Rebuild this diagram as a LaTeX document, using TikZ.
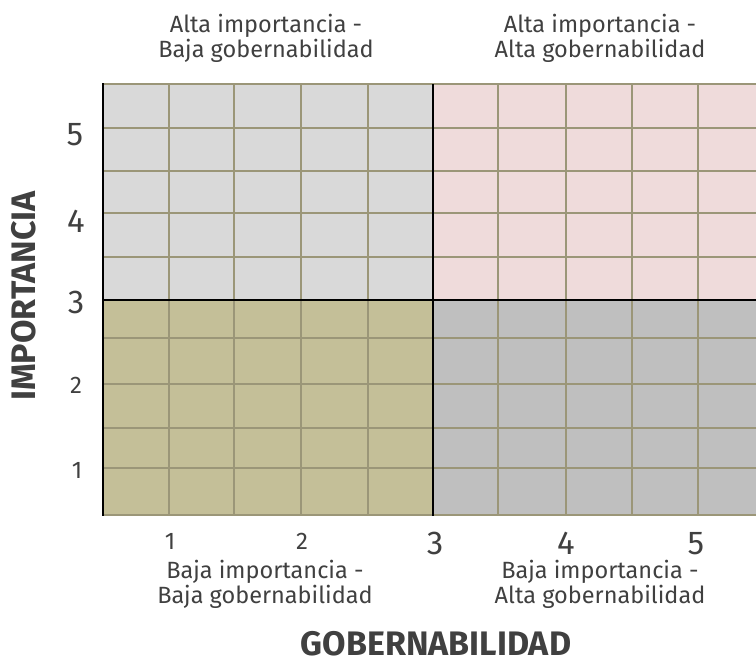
\documentclass[tikz,border=0pt]{standalone}
\usepackage{fontspec}
\setmainfont{Fira Sans}
\definecolor{txt}{RGB}{64,64,64}
\definecolor{gridc}{RGB}{155,150,120}
\definecolor{qtl}{RGB}{217,217,217}
\definecolor{qtr}{RGB}{239,219,219}
\definecolor{qbl}{RGB}{196,191,152}
\definecolor{qbr}{RGB}{191,191,191}
\begin{document}
\begin{tikzpicture}[x=1pt,y=-1pt,
  lbl/.style={font=\fontsize{23.5}{25}\selectfont, text=txt, inner sep=0, anchor=base},
  bignum/.style={font=\fontsize{33}{33}\selectfont, text=txt, inner sep=0, anchor=base, text depth=0pt},
  smallnum/.style={font=\fontsize{24}{24}\selectfont, text=txt, inner sep=0, anchor=base, text depth=0pt},
  axtitle/.style={font=\bfseries\fontsize{34}{34}\selectfont, text=txt, inner sep=0, anchor=base, text depth=0pt},
  gridline/.style={draw=gridc, line width=2.8pt},
  axisline/.style={draw=black, line width=2.8pt}]
\useasboundingbox (0,0) rectangle (756,662);
% quadrants
\fill[qtl] (103,84) rectangle (433,300);
\fill[qtr] (433,84) rectangle (756,300);
\fill[qbl] (103,300) rectangle (433,515);
\fill[qbr] (433,300) rectangle (756,515);
% grid
\foreach \x in {169,234,301,368,498,566,632,698} \draw[gridline] (\x,84) -- (\x,515);
\foreach \y in {84,128,171,213,257,338,384,428,468,515} \draw[gridline] (103,\y) -- (756,\y);
% axes / dividers
\draw[axisline] (103,83) -- (103,516.4);
\draw[axisline] (433,84) -- (433,516.4);
\draw[axisline] (103,300) -- (756,300);
% quadrant labels
\node[lbl] (tl1) at (266,32) {Alta importancia -};
\node[lbl] (tl2) at (266,57) {Baja gobernabilidad};
\node[lbl] (tr1) at (600,32) {Alta importancia -};
\node[lbl] (tr2) at (600,57) {Alta gobernabilidad};
\node[lbl] (bl1) at (265,578) {Baja importancia -};
\node[lbl] (bl2) at (265,603) {Baja gobernabilidad};
\node[lbl] (br1) at (600,578) {Baja importancia -};
\node[lbl] (br2) at (600,603) {Alta gobernabilidad};
% y-axis numbers
\node[bignum] (y5) at (75,145) {5};
\node[bignum] (y4) at (76,232) {4};
\node[bignum] (y3) at (76,313) {3};
\node[smallnum] (y2) at (76,393) {2};
\node[smallnum] (y1) at (77,478) {1};
% x-axis numbers
\node[smallnum] (x1) at (170,549) {1};
\node[smallnum] (x2) at (302,549) {2};
\node[bignum] (x3) at (435,554) {3};
\node[bignum] (x4) at (566,554) {4};
\node[bignum] (x5) at (696,554) {5};
% axis titles
\node[axtitle] (xt) at (436,655) {GOBERNABILIDAD};
\node[axtitle, rotate=90] (yt) at (35,296) {IMPORTANCIA};
\end{tikzpicture}
\end{document}
